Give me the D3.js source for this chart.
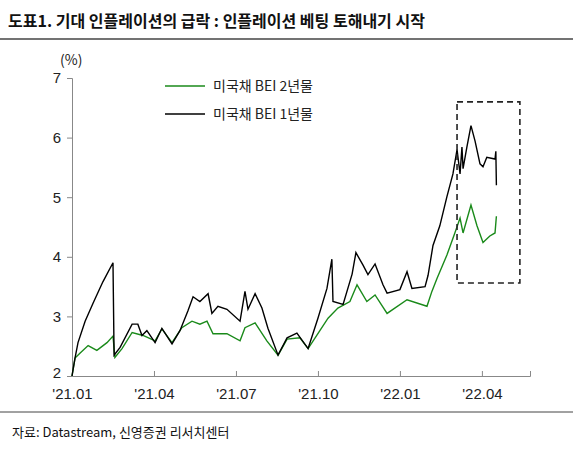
<!DOCTYPE html>
<html><head><meta charset="utf-8">
<script src="https://cdn.jsdelivr.net/npm/d3@7"></script>
<style>body{margin:0;background:#fff;font-family:"Noto Sans CJK KR","Noto Sans",sans-serif;}</style>
</head><body>
<script>
// months since 2021-01, value (%)
const bei1y = [[0,2.0],[0.11,2.3],[0.22,2.56],[0.48,2.92],[0.77,3.22],[1.13,3.58],[1.5,3.9],[1.54,2.35],[1.76,2.48],[2.2,2.87],[2.41,2.87],[2.56,2.68],[2.74,2.76],[3.04,2.56],[3.29,2.8],[3.66,2.54],[3.95,2.76],[4.24,3.09],[4.43,3.33],[4.68,3.25],[4.98,3.38],[5.12,3.05],[5.34,3.17],[5.67,3.12],[6.15,2.92],[6.33,3.42],[6.44,3.12],[6.7,3.38],[6.95,3.14],[7.17,2.8],[7.54,2.35],[7.87,2.64],[8.23,2.72],[8.64,2.46],[9.0,2.97],[9.33,3.47],[9.51,3.96],[9.55,3.25],[9.92,3.2],[10.25,3.71],[10.39,4.07],[10.65,3.86],[10.83,3.7],[11.09,3.88],[11.38,3.53],[11.53,3.39],[12.0,3.45],[12.26,3.75],[12.44,3.47],[12.92,3.5],[13.03,3.69],[13.21,4.19],[13.46,4.52],[13.72,5.01],[13.94,5.39],[14.09,5.8],[14.2,5.39],[14.27,5.84],[14.31,5.48],[14.45,5.84],[14.6,6.2],[14.75,5.94],[14.93,5.56],[15.04,5.51],[15.18,5.67],[15.48,5.64],[15.51,5.77],[15.53,5.2]];
const bei2y = [[0,2.0],[0.11,2.3],[0.29,2.38],[0.59,2.51],[0.91,2.43],[1.28,2.56],[1.5,2.67],[1.57,2.31],[1.83,2.46],[2.2,2.73],[2.6,2.68],[3.04,2.59],[3.29,2.79],[3.66,2.56],[4.02,2.81],[4.39,2.92],[4.68,2.87],[4.94,2.92],[5.16,2.71],[5.67,2.71],[6.15,2.59],[6.33,2.81],[6.7,2.89],[7.13,2.59],[7.54,2.35],[7.87,2.62],[8.34,2.64],[8.64,2.46],[9.07,2.76],[9.37,2.97],[9.73,3.14],[10.17,3.25],[10.43,3.53],[10.79,3.25],[11.09,3.36],[11.53,3.05],[12.26,3.28],[12.99,3.17],[13.17,3.42],[13.36,3.64],[13.72,4.03],[14.01,4.4],[14.2,4.65],[14.31,4.4],[14.6,4.87],[14.82,4.52],[15.04,4.24],[15.29,4.35],[15.48,4.4],[15.53,4.68]];
const yTicks = [2,3,4,5,6,7];
const xTicks = [0,3,6,9,12,15];
const xLabels = ["'21.01","'21.04","'21.07","'21.10","'22.01","'22.04"];
const legend = [["미국채 BEI 2년물","#1a8a1a"],["미국채 BEI 1년물","#000"]];

const W = 573, H = 451;
const svg = d3.select("body").append("svg").attr("width", W).attr("height", H);

svg.append("text").attr("x", 8).attr("y", 27).attr("font-size", 16).attr("font-weight", "bold")
   .attr("fill", "#111").text("도표1. 기대 인플레이션의 급락 : 인플레이션 베팅 토해내기 시작");
svg.append("line").attr("x1", 0).attr("x2", W).attr("y1", 39).attr("y2", 39).attr("stroke", "#444").attr("stroke-width", 1.5);
svg.append("line").attr("x1", 0).attr("x2", W).attr("y1", 412).attr("y2", 412).attr("stroke", "#444").attr("stroke-width", 1);
svg.append("text").attr("x", 12).attr("y", 437).attr("font-size", 13).attr("fill", "#111")
   .text("자료: Datastream, 신영증권 리서치센터");

const x = d3.scaleLinear().domain([0, 16.76]).range([72, 530]);
const y = d3.scaleLinear().domain([2, 7]).range([376, 78]);

const yAxis = svg.append("g").attr("transform", "translate(72,0)")
  .call(d3.axisLeft(y).tickValues(yTicks).tickSize(5).tickPadding(6).tickFormat(d3.format("d")));
yAxis.selectAll("text").attr("font-size", 15).attr("fill", "#222").attr("font-family", "Liberation Sans, sans-serif");
yAxis.selectAll("text").filter(d => d === 2).attr("dy", "0.1em");
const xAxis = svg.append("g").attr("transform", "translate(0,376)")
  .call(d3.axisBottom(x).tickValues(xTicks).tickSize(-5).tickFormat((d, i) => xLabels[i]));
xAxis.selectAll("text").attr("font-size", 15).attr("fill", "#222").attr("dy", "1.3em").attr("font-family", "Liberation Sans, sans-serif");
svg.selectAll(".domain, .tick line").attr("stroke", "#888");

svg.append("text").attr("x", 60).attr("y", 65).attr("font-size", 14).attr("fill", "#222").text("(%)");

const line = d3.line().x(d => x(d[0])).y(d => y(d[1]));
svg.append("path").datum(bei2y).attr("d", line).attr("fill", "none").attr("stroke", "#1a8a1a").attr("stroke-width", 1.4);
svg.append("path").datum(bei1y).attr("d", line).attr("fill", "none").attr("stroke", "#000").attr("stroke-width", 1.4);

// dashed highlight box
svg.append("rect").attr("x", x(14.09)).attr("y", y(6.6)).attr("width", x(16.39) - x(14.09)).attr("height", y(3.56) - y(6.6))
   .attr("fill", "none").attr("stroke", "#222").attr("stroke-width", 1.6).attr("stroke-dasharray", "6,4");

const lg = svg.append("g").selectAll("g").data(legend).enter().append("g")
  .attr("transform", (d, i) => `translate(165,${86 + i * 28})`);
lg.append("line").attr("x1", 0).attr("x2", 40).attr("stroke", d => d[1]).attr("stroke-width", 1.5);
lg.append("text").attr("x", 48).attr("y", 5).attr("font-size", 14).attr("fill", "#222").text(d => d[0]);
</script>
</body></html>
